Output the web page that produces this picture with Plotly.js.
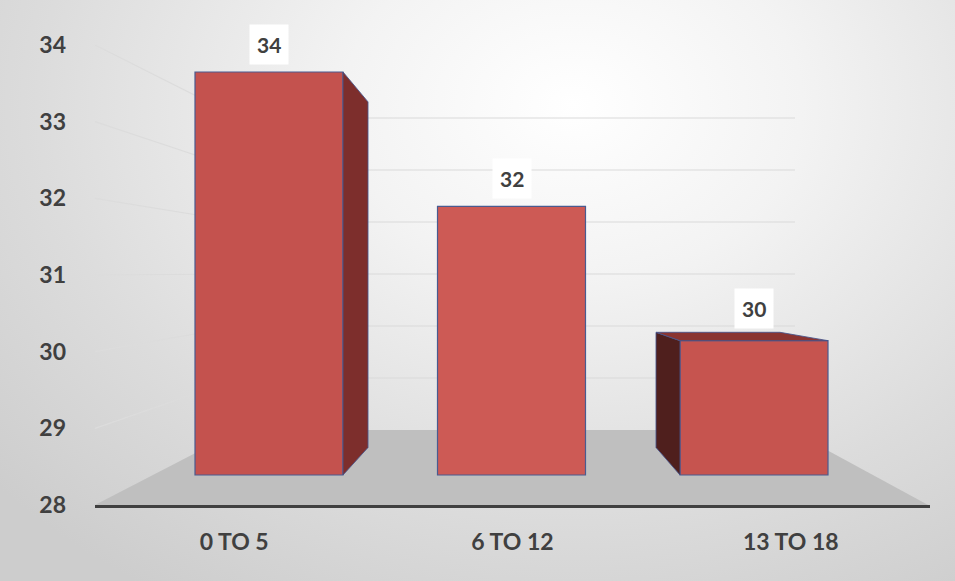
<!DOCTYPE html>
<html>
<head>
<meta charset="utf-8">
<script src="https://cdn.plot.ly/plotly-3.0.1.min.js"></script>
<style>
  html, body { margin: 0; padding: 0; }
  #chart {
    width: 955px; height: 581px;
    background: radial-gradient(ellipse 80% 100% at 60% 18%, #ffffff 0%, #f3f3f3 30%, #dcdcdc 70%, #cdcdcd 100%);
  }
</style>
</head>
<body>
<div id="chart"></div>
<script>
// ---- data ----
const categories = ['0 TO 5', '6 TO 12', '13 TO 18'];
const values = [34, 32, 30];
const yTicks = [28, 29, 30, 31, 32, 33, 34];

// ---- geometry (pixels) ----
const W = 955, H = 581;
const PLOT = { l: 95, r: 930, t: 45, b: 505 };
const Y_MIN = 28, Y_MAX = 34;
const FRONT = { floor: 475, scale: 403 / 6, x0: 269, step: 242.5, half: 74 };
const BACK = { floor: 447.5, scale: 57.6, xc: 512, step: 206, half: 62 };
const WALL = { floor: 430, scale: 52, left: 240, right: 795 };
const FLOOR_PTS = [[93, 506], [WALL.left, WALL.floor], [790, WALL.floor], [930, 506]];

const yScale = (PLOT.b - PLOT.t) / (Y_MAX - Y_MIN);
const toPX = px => (px - PLOT.l) / (PLOT.r - PLOT.l);
const toY = py => Y_MIN + (PLOT.b - py) / yScale;
const tickPix = v => PLOT.b - (v - Y_MIN) * yScale;
const frontY = v => FRONT.floor - (v - Y_MIN) * FRONT.scale;
const backY = v => BACK.floor - (v - Y_MIN) * BACK.scale;
const wallY = v => WALL.floor - (v - Y_MIN) * WALL.scale;
const frontC = i => FRONT.x0 + i * FRONT.step;
const backC = i => BACK.xc + (i - 1) * BACK.step;

function path(pts) {
  return 'M ' + pts.map(p => toPX(p[0]).toFixed(5) + ',' + toY(p[1]).toFixed(5)).join(' L ') + ' Z';
}

const shapes = [];
// floor
shapes.push({ type: 'path', xref: 'paper', yref: 'y', layer: 'below',
  path: path(FLOOR_PTS), fillcolor: '#bfbfbf', line: { width: 0 } });
// back-wall gridlines and side-wall diagonals
yTicks.forEach(v => {
  if (v === Y_MIN) return;
  shapes.push({ type: 'line', xref: 'paper', yref: 'y', layer: 'below',
    x0: toPX(WALL.left), x1: toPX(WALL.right), y0: toY(wallY(v)), y1: toY(wallY(v)),
    line: { color: '#d9d9d9', width: 1.2 } });
  shapes.push({ type: 'line', xref: 'paper', yref: 'y', layer: 'below',
    x0: toPX(PLOT.l), x1: toPX(WALL.left), y0: toY(tickPix(v)), y1: toY(wallY(v)),
    line: { color: '#dcdcdc', width: 1.2 } });
});
// 3D faces of bars
const edge = { color: 'rgba(70,85,140,0.85)', width: 1 };
values.forEach((v, i) => {
  const fl = frontC(i) - FRONT.half, fr = frontC(i) + FRONT.half;
  const bl = backC(i) - BACK.half, br = backC(i) + BACK.half;
  const ft = frontY(v), bt = backY(v), fb = frontY(Y_MIN), bb = backY(Y_MIN);
  if (br > fr + 1) {
    shapes.push({ type: 'path', xref: 'paper', yref: 'y', layer: 'above',
      path: path([[fr, ft], [br, bt], [br, bb], [fr, fb]]), fillcolor: '#7d2e2c', line: edge });
  }
  if (bl < fl - 1) {
    shapes.push({ type: 'path', xref: 'paper', yref: 'y', layer: 'above',
      path: path([[fl, ft], [bl, bt], [bl, bb], [fl, fb]]), fillcolor: '#4f1f1d', line: edge });
  }
  if (bt < ft - 1) {
    shapes.push({ type: 'path', xref: 'paper', yref: 'y', layer: 'above',
      path: path([[fl, ft], [bl, bt], [br, bt], [fr, ft]]), fillcolor: '#8a3431', line: edge });
  }
});

// value labels
const annotations = values.map((v, i) => ({
  xref: 'x2', yref: 'y2', x: i, y: v, text: String(v),
  showarrow: false, yanchor: 'bottom',
  yshift: 7 + Math.max(0, frontY(v) - backY(v)) * 0.6,
  bgcolor: '#ffffff', borderpad: 7,
  font: { family: 'Lato, "Open Sans", sans-serif', size: 21, color: '#404040', weight: 'bold' }
}));

const x2Range = [(PLOT.l - FRONT.x0) / FRONT.step, (PLOT.r - FRONT.x0) / FRONT.step];
const y2Range = [Y_MIN - (PLOT.b - FRONT.floor) / FRONT.scale, Y_MIN + (FRONT.floor - PLOT.t) / FRONT.scale];

const traces = [
  { type: 'scatter', x: categories, y: values, mode: 'markers',
    marker: { opacity: 0 }, hoverinfo: 'skip', showlegend: false, xaxis: 'x', yaxis: 'y' },
  { type: 'bar', x: values.map((v, i) => i), y: values.map(v => v - Y_MIN), base: Y_MIN,
    width: 2 * FRONT.half / FRONT.step, xaxis: 'x2', yaxis: 'y2',
    marker: { color: ['#c4524e', '#cd5a55', '#c6544f'], line: { color: '#4a5b90', width: 1.2 } },
    hoverinfo: 'skip', showlegend: false }
];

const tickFont = { family: 'Lato, "Open Sans", sans-serif', size: 23, color: '#404040', weight: 'bold' };

const layout = {
  width: W, height: H,
  margin: { l: PLOT.l, r: W - PLOT.r, t: PLOT.t, b: H - PLOT.b },
  paper_bgcolor: 'rgba(0,0,0,0)', plot_bgcolor: 'rgba(0,0,0,0)',
  showlegend: false,
  xaxis: { type: 'category', range: [-0.5, 2.5], showgrid: false, zeroline: false,
    showline: true, linecolor: '#404040', linewidth: 3, ticks: '', ticklabelstandoff: 14,
    tickfont: tickFont, fixedrange: true },
  yaxis: { range: [Y_MIN, Y_MAX], tickvals: yTicks, ticktext: yTicks.map(String),
    showgrid: false, zeroline: false, showline: false, ticks: '', ticklabelstandoff: 28,
    tickfont: tickFont, fixedrange: true },
  xaxis2: { overlaying: 'x', range: x2Range, visible: false, fixedrange: true },
  yaxis2: { overlaying: 'y', range: y2Range, visible: false, fixedrange: true },
  shapes: shapes,
  annotations: annotations
};

Plotly.newPlot('chart', traces, layout, { displayModeBar: false, staticPlot: true });
</script>
</body>
</html>
